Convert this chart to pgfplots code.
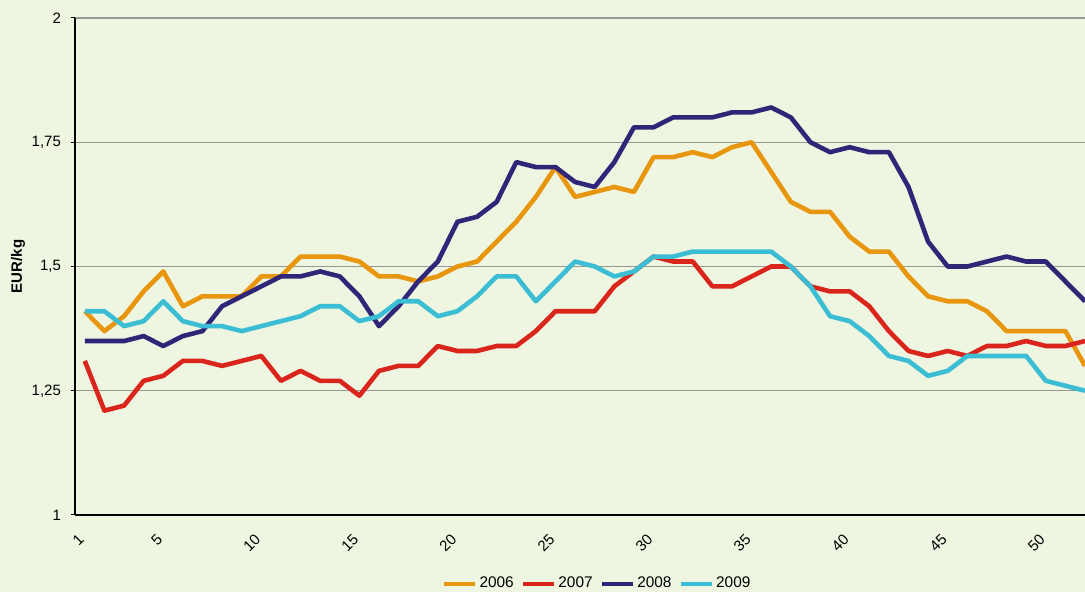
\documentclass[border=0pt]{standalone}
\usepackage{fontspec}
\setmainfont{Liberation Sans}
\usepackage{pgfplots}
\pgfplotsset{compat=1.18}

\definecolor{c06}{RGB}{232,150,14}
\definecolor{c07}{RGB}{217,37,27}
\definecolor{c08}{RGB}{47,38,120}
\definecolor{c09}{RGB}{59,189,212}
\definecolor{bgc}{RGB}{238,245,225}
\definecolor{gridc}{RGB}{150,152,145}

\begin{document}
\begin{tikzpicture}
\fill[bgc] (-37.5pt,-38.5pt) rectangle (505pt,257.5pt);
\useasboundingbox (-37.5pt,-38.5pt) rectangle (505pt,257.5pt);
\begin{axis}[
    at={(0pt,0pt)}, anchor=south west,
    scale only axis, width=505pt, height=248.5pt,
    xmin=0.5, xmax=52, ymin=1, ymax=2,
    axis x line*=bottom, axis y line*=left,
    axis line style={black, line width=0.8pt},
    font=\fontsize{7.5}{9}\selectfont,
    /pgf/number format/assume math mode=true,
    xtick={1,5,10,15,20,25,30,35,40,45,50},
    xticklabels={1,5,10,15,20,25,30,35,40,45,50},
    xtick style={draw=none},
    minor xtick={0.5,1.5,...,51.5},
    minor tick length=2pt,
    minor x tick style={black, line width=0.5pt},
    xticklabel style={rotate=45, anchor=east, xshift=-4.1pt, yshift=-5.1pt},
    ytick={1,1.25,1.5,1.75,2},
    yticklabels={1,{1,25},{1,5},{1,75},2},
    major tick length=2pt,
    ytick style={black, line width=0.5pt},
    tick align=outside,
    yticklabel style={xshift=-1.5pt},
    ymajorgrids,
    grid style={gridc, line width=0.6pt},
    ylabel={\bfseries EUR/kg},
    ylabel style={at={(axis description cs:-0.0564,0.5)}, anchor=center},
    legend style={at={(axis description cs:0.517,-0.139)}, anchor=center,
        draw=none, fill=none, legend columns=4, inner sep=0pt,
        font=\fontsize{7.7}{9}\selectfont,
        nodes={inner xsep=1pt},
        /tikz/every even column/.append style={column sep=2.5pt}},
    legend image code/.code={\draw[#1] (0pt,0pt) -- (15.5pt,0pt);},
    every axis plot/.append style={line width=2.3pt, line join=round, mark=none},
]
\addplot[c06] coordinates {
(1,1.41) (2,1.37) (3,1.40) (4,1.45) (5,1.49) (6,1.42) (7,1.44) (8,1.44) (9,1.44) (10,1.48)
(11,1.48) (12,1.52) (13,1.52) (14,1.52) (15,1.51) (16,1.48) (17,1.48) (18,1.47) (19,1.48) (20,1.50)
(21,1.51) (22,1.55) (23,1.59) (24,1.64) (25,1.70) (26,1.64) (27,1.65) (28,1.66) (29,1.65) (30,1.72)
(31,1.72) (32,1.73) (33,1.72) (34,1.74) (35,1.75) (36,1.69) (37,1.63) (38,1.61) (39,1.61) (40,1.56)
(41,1.53) (42,1.53) (43,1.48) (44,1.44) (45,1.43) (46,1.43) (47,1.41) (48,1.37) (49,1.37) (50,1.37)
(51,1.37) (52,1.30)
};
\addlegendentry{2006}
\addplot[c07] coordinates {
(1,1.31) (2,1.21) (3,1.22) (4,1.27) (5,1.28) (6,1.31) (7,1.31) (8,1.30) (9,1.31) (10,1.32)
(11,1.27) (12,1.29) (13,1.27) (14,1.27) (15,1.24) (16,1.29) (17,1.30) (18,1.30) (19,1.34) (20,1.33)
(21,1.33) (22,1.34) (23,1.34) (24,1.37) (25,1.41) (26,1.41) (27,1.41) (28,1.46) (29,1.49) (30,1.52)
(31,1.51) (32,1.51) (33,1.46) (34,1.46) (35,1.48) (36,1.50) (37,1.50) (38,1.46) (39,1.45) (40,1.45)
(41,1.42) (42,1.37) (43,1.33) (44,1.32) (45,1.33) (46,1.32) (47,1.34) (48,1.34) (49,1.35) (50,1.34)
(51,1.34) (52,1.35)
};
\addlegendentry{2007}
\addplot[c08] coordinates {
(1,1.35) (2,1.35) (3,1.35) (4,1.36) (5,1.34) (6,1.36) (7,1.37) (8,1.42) (9,1.44) (10,1.46)
(11,1.48) (12,1.48) (13,1.49) (14,1.48) (15,1.44) (16,1.38) (17,1.42) (18,1.47) (19,1.51) (20,1.59)
(21,1.60) (22,1.63) (23,1.71) (24,1.70) (25,1.70) (26,1.67) (27,1.66) (28,1.71) (29,1.78) (30,1.78)
(31,1.80) (32,1.80) (33,1.80) (34,1.81) (35,1.81) (36,1.82) (37,1.80) (38,1.75) (39,1.73) (40,1.74)
(41,1.73) (42,1.73) (43,1.66) (44,1.55) (45,1.50) (46,1.50) (47,1.51) (48,1.52) (49,1.51) (50,1.51)
(51,1.47) (52,1.43)
};
\addlegendentry{2008}
\addplot[c09] coordinates {
(1,1.41) (2,1.41) (3,1.38) (4,1.39) (5,1.43) (6,1.39) (7,1.38) (8,1.38) (9,1.37) (10,1.38)
(11,1.39) (12,1.40) (13,1.42) (14,1.42) (15,1.39) (16,1.40) (17,1.43) (18,1.43) (19,1.40) (20,1.41)
(21,1.44) (22,1.48) (23,1.48) (24,1.43) (25,1.47) (26,1.51) (27,1.50) (28,1.48) (29,1.49) (30,1.52)
(31,1.52) (32,1.53) (33,1.53) (34,1.53) (35,1.53) (36,1.53) (37,1.50) (38,1.46) (39,1.40) (40,1.39)
(41,1.36) (42,1.32) (43,1.31) (44,1.28) (45,1.29) (46,1.32) (47,1.32) (48,1.32) (49,1.32) (50,1.27)
(51,1.26) (52,1.25)
};
\addlegendentry{2009}
\end{axis}
\end{tikzpicture}
\end{document}
